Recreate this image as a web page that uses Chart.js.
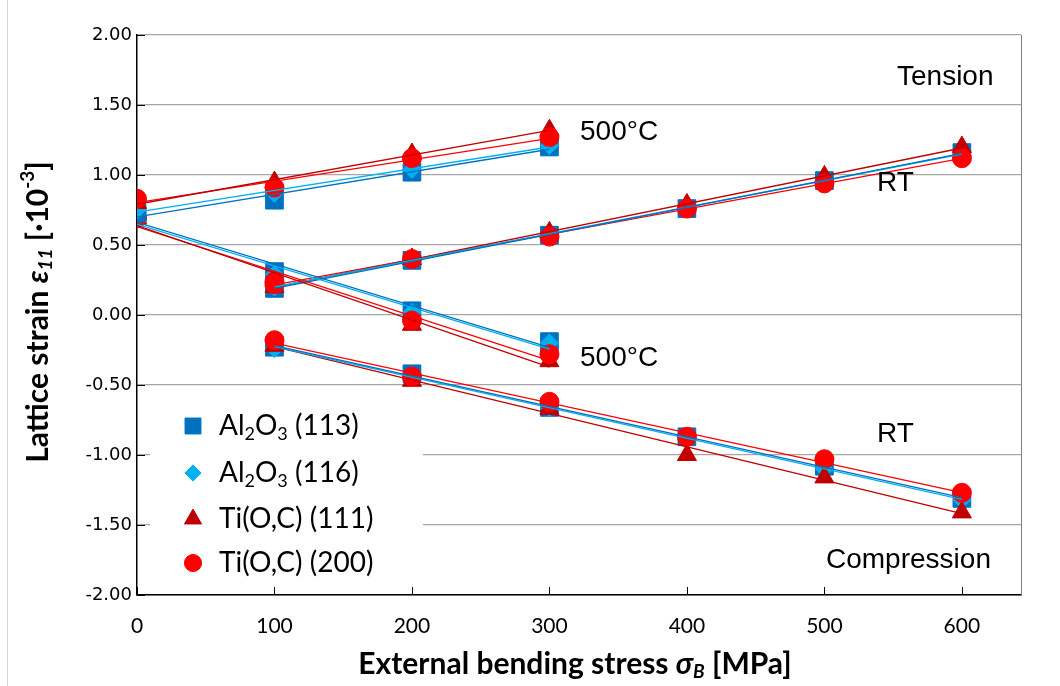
<!DOCTYPE html>
<html>
<head>
<meta charset="utf-8">
<script src="https://cdn.jsdelivr.net/npm/chart.js@4"></script>
<style>
  html, body { margin: 0; padding: 0; background: #fff; }
</style>
</head>
<body>
<canvas id="strainChart" width="1060" height="686"></canvas>
<script>
// stress levels (MPa)
const hotX = [0, 100, 200, 300];
const rtX = [100, 200, 300, 400, 500, 600];

// 500°C, tension side
const al113HotTen = [0.73, 0.82, 1.02, 1.20];
const al116HotTen = [0.75, 0.87, 1.04, 1.21];
const ti111HotTen = [0.80, 0.95, 1.15, 1.32];
const ti200HotTen = [0.83, 0.91, 1.12, 1.27];

// 500°C, compression side
const al113HotCom = [0.71, 0.31, 0.03, -0.19];
const al116HotCom = [0.70, 0.29, 0.02, -0.20];
const ti111HotCom = [0.69, 0.24, -0.07, -0.33];
const ti200HotCom = [0.69, 0.24, -0.04, -0.28];

// RT, tension side
const al113RtTen = [0.19, 0.39, 0.57, 0.76, 0.96, 1.16];
const al116RtTen = [0.20, 0.39, 0.58, 0.77, 0.96, 1.15];
const ti111RtTen = [0.20, 0.40, 0.59, 0.79, 0.99, 1.20];
const ti200RtTen = [0.22, 0.40, 0.56, 0.76, 0.94, 1.12];

// RT, compression side
const al113RtCom = [-0.23, -0.42, -0.66, -0.87, -1.08, -1.31];
const al116RtCom = [-0.24, -0.43, -0.66, -0.88, -1.10, -1.32];
const ti111RtCom = [-0.22, -0.47, -0.67, -1.00, -1.16, -1.41];
const ti200RtCom = [-0.18, -0.44, -0.62, -0.87, -1.03, -1.27];

const xTicks = [0, 100, 200, 300, 400, 500, 600];
const yTicks = [-2, -1.5, -1, -0.5, 0, 0.5, 1, 1.5, 2];

const seriesNames = [
  [['Al', 0], ['2', 1], ['O', 0], ['3', 1], [' (113)', 0]],
  [['Al', 0], ['2', 1], ['O', 0], ['3', 1], [' (116)', 0]],
  [['Ti(O,C) (111)', 0]],
  [['Ti(O,C) (200)', 0]]
];
const regionLabels = ['Tension', '500°C', 'RT', '500°C', 'RT', 'Compression'];

// groups listed in drawing order: 500°C compression, 500°C tension, RT tension, RT compression
const series = [
  { color: '#0070C0', style: 'rect', radius: 12.5, groups: [al113HotCom, al113HotTen, al113RtTen, al113RtCom] },
  { color: '#00B0F0', style: 'rectRot', radius: 9, groups: [al116HotCom, al116HotTen, al116RtTen, al116RtCom] },
  { color: '#C00000', style: 'triangle', radius: 11, groups: [ti111HotCom, ti111HotTen, ti111RtTen, ti111RtCom] },
  { color: '#FF0000', style: 'circle', radius: 9.5, groups: [ti200HotCom, ti200HotTen, ti200RtTen, ti200RtCom] }
];
const groupX = [hotX, hotX, rtX, rtX];

function pts(xs, ys) {
  return xs.map((x, i) => ({ x: x, y: ys[i] }));
}

// least squares line like an Excel linear trendline
function trend(xs, ys) {
  const n = xs.length;
  const mx = xs.reduce((a, b) => a + b, 0) / n;
  const my = ys.reduce((a, b) => a + b, 0) / n;
  let sxy = 0, sxx = 0;
  for (let i = 0; i < n; i++) {
    sxy += (xs[i] - mx) * (ys[i] - my);
    sxx += (xs[i] - mx) * (xs[i] - mx);
  }
  const b = sxy / sxx;
  const a = my - b * mx;
  return [{ x: xs[0], y: a + b * xs[0] }, { x: xs[n - 1], y: a + b * xs[n - 1] }];
}

const datasets = [];
let seq = 0;
for (let gi = 0; gi < 4; gi++) {
  series.forEach(s => {
    const g = s.groups[gi];
    datasets.push({
      data: pts(groupX[gi], g),
      showLine: false,
      pointStyle: s.style,
      pointRadius: s.radius,
      pointBackgroundColor: s.color,
      pointBorderColor: s.color,
      pointBorderWidth: 1,
      order: 100 - seq
    });
    datasets.push({
      data: trend(groupX[gi], g),
      showLine: true,
      borderColor: s.color,
      borderWidth: 1.3,
      pointRadius: 0,
      order: 0
    });
    seq++;
  });
}

function drawRich(ctx, parts, x, y, align) {
  let w = 0;
  parts.forEach(p => { ctx.font = p.f; w += ctx.measureText(p.t).width; });
  let cx = align === 'center' ? x - w / 2 : x;
  ctx.textAlign = 'left';
  ctx.textBaseline = 'middle';
  parts.forEach(p => {
    ctx.font = p.f;
    ctx.fillText(p.t, cx, y + (p.dy || 0));
    cx += ctx.measureText(p.t).width;
  });
}

const decor = {
  id: 'decor',
  afterDraw(chart) {
    const ctx = chart.ctx;
    const a = chart.chartArea;
    const xs = chart.scales.x, ys = chart.scales.y;
    ctx.save();

    // figure frame line on the left
    ctx.strokeStyle = '#d4d4d4';
    ctx.lineWidth = 1;
    ctx.beginPath();
    ctx.moveTo(7.5, 0); ctx.lineTo(7.5, 686);
    ctx.stroke();

    // right border
    ctx.strokeStyle = '#7f7f7f';
    ctx.beginPath();
    ctx.moveTo(a.right + 0.5, a.top); ctx.lineTo(a.right + 0.5, a.bottom);
    ctx.stroke();

    // legend box (covers gridlines)
    ctx.fillStyle = '#fff';
    ctx.fillRect(150, 399, 273, 188);

    // inward tick marks
    ctx.strokeStyle = '#000';
    ctx.lineWidth = 1;
    yTicks.forEach(v => {
      const py = Math.round(ys.getPixelForValue(v)) + 0.5;
      ctx.beginPath(); ctx.moveTo(a.left, py); ctx.lineTo(a.left + 8, py); ctx.stroke();
    });
    xTicks.forEach(v => {
      const px = Math.round(xs.getPixelForValue(v)) + 0.5;
      ctx.beginPath(); ctx.moveTo(px, a.bottom); ctx.lineTo(px, a.bottom - 8); ctx.stroke();
    });

    // legend
    const rowY = [426, 473, 519, 563];
    const base = '28px Lato';
    const sub = '18px Lato';
    series.forEach((s, i) => {
      ctx.fillStyle = s.color;
      ctx.strokeStyle = s.color;
      ctx.lineWidth = 1;
      Chart.helpers.drawPoint(ctx, { pointStyle: s.style, radius: s.radius * 0.9, rotation: 0, borderWidth: 1 }, 193, rowY[i]);
      ctx.fillStyle = '#000';
      const parts = seriesNames[i].map(p => ({ t: p[0], f: p[1] ? sub : base, dy: p[1] ? 8 : 0 }));
      drawRich(ctx, parts, 219, rowY[i], 'left');
    });

    // region labels
    ctx.fillStyle = '#000';
    ctx.font = '28px "Liberation Sans", Arial, sans-serif';
    ctx.textAlign = 'left';
    ctx.textBaseline = 'middle';
    const lx = [897, 580, 877, 580, 877, 826];
    const ly = [77, 132, 183, 358, 434, 560];
    regionLabels.forEach((t, i) => ctx.fillText(t, lx[i], ly[i]));

    // x axis title
    const tb = 'bold 30px Lato';
    const ti = 'bold italic 30px Lato';
    const ts = 'bold italic 19px Lato';
    drawRich(ctx, [
      { t: 'External bending stress ', f: tb },
      { t: 'σ', f: ti },
      { t: 'B', f: ts, dy: 8 },
      { t: ' [MPa]', f: tb }
    ], 575, 664, 'center');

    // y axis title
    ctx.translate(38, 312);
    ctx.rotate(-Math.PI / 2);
    drawRich(ctx, [
      { t: 'Lattice strain ', f: tb },
      { t: 'ε', f: ti },
      { t: '11', f: ts, dy: 8 },
      { t: ' [·10', f: tb },
      { t: '-3', f: 'bold 19px Lato', dy: -10 },
      { t: ']', f: tb }
    ], 0, 0, 'center');

    ctx.restore();
  }
};

const ctx = document.getElementById('strainChart').getContext('2d');

const chart = new Chart(ctx, {
  type: 'scatter',
  data: { datasets: datasets },
  options: {
    responsive: false,
    animation: false,
    events: [],
    layout: { padding: { top: 35, right: 39, left: 0, bottom: 0 } },
    plugins: { legend: { display: false }, tooltip: { enabled: false } },
    scales: {
      x: {
        type: 'linear',
        min: 0,
        max: 643,
        afterBuildTicks: s => { s.ticks = xTicks.map(v => ({ value: v })); },
        afterFit: s => { s.height = 91; },
        grid: { display: false, drawTicks: false },
        border: { display: true, color: '#000', width: 1.5 },
        ticks: { color: '#000', padding: 19, maxRotation: 0, font: { family: 'Lato', size: 21 } }
      },
      y: {
        min: -2,
        max: 2,
        afterBuildTicks: s => { s.ticks = yTicks.map(v => ({ value: v })); },
        afterFit: s => { s.width = 137; },
        grid: { color: '#a6a6a6', lineWidth: 1.3, drawTicks: false },
        border: { display: true, color: '#000', width: 1.5 },
        ticks: {
          color: '#000',
          padding: 5,
          font: { family: 'DejaVu Sans', size: 18 },
          callback: v => v.toFixed(2)
        }
      }
    }
  },
  plugins: [decor]
});
</script>
</body>
</html>
